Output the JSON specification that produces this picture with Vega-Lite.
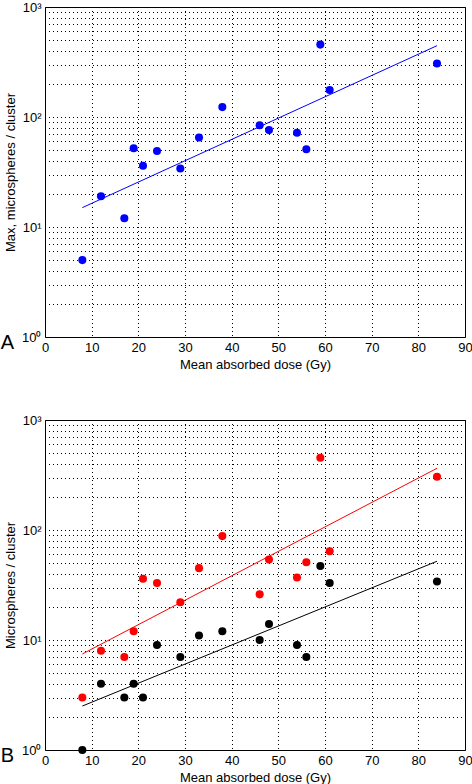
{
  "$schema": "https://vega.github.io/schema/vega-lite/v6.json",
  "background": "white",
  "padding": {"left": 0, "top": 0, "right": 5, "bottom": 5},
  "spacing": 41,
  "config": {
    "view": {"stroke": "#000", "strokeWidth": 1},
    "axis": {"labelFont": "Liberation Sans", "titleFont": "Liberation Sans", "labelFontSize": 13, "titleFontSize": 13, "titleFontWeight": "normal", "labelColor": "#000", "titleColor": "#000", "domain": false, "ticks": false, "gridColor": "#000", "gridDash": [1, 3], "gridDashOffset": 0.5, "gridOpacity": 1, "gridWidth": 1, "labelPadding": 4, "titlePadding": 4, "labelFlush": false, "labelOverlap": false},
    "text": {"font": "Liberation Sans"}
  },
  "vconcat": [
    {
      "width": 420, "height": 330,
      "layer": [
        {
          "data": {"values": [
            {"dose": 8, "count": 5}, {"dose": 12, "count": 19}, {"dose": 17, "count": 12}, {"dose": 19, "count": 52},
            {"dose": 21, "count": 36}, {"dose": 24, "count": 49}, {"dose": 29, "count": 34}, {"dose": 33, "count": 65},
            {"dose": 38, "count": 123}, {"dose": 46, "count": 84}, {"dose": 48, "count": 76}, {"dose": 54, "count": 72},
            {"dose": 56, "count": 51}, {"dose": 59, "count": 455}, {"dose": 61, "count": 176}, {"dose": 84, "count": 306}
          ]},
          "mark": {"type": "circle", "size": 65, "opacity": 1, "color": "#0000ff"},
          "encoding": {
            "x": {"field": "dose", "type": "quantitative", "scale": {"domain": [0, 90], "nice": false}, "axis": {"title": "Mean absorbed dose (Gy)", "values": [0, 10, 20, 30, 40, 50, 60, 70, 80, 90]}},
            "y": {"field": "count", "type": "quantitative", "scale": {"type": "log", "domain": [1, 1000], "nice": false}, "axis": {"title": "Max, microspheres / cluster", "values": [1, 2, 3, 4, 5, 6, 7, 8, 9, 10, 20, 30, 40, 50, 60, 70, 80, 90, 100, 200, 300, 400, 500, 600, 700, 800, 900, 1000], "labelExpr": "datum.value == 1 ? '10⁰' : datum.value == 10 ? '10¹' : datum.value == 100 ? '10²' : datum.value == 1000 ? '10³' : ''"}}
          }
        },
        {
          "data": {"values": [{"dose": 8, "count": 15}, {"dose": 84, "count": 445}]},
          "mark": {"type": "line", "color": "#0000ff", "strokeWidth": 1},
          "encoding": {
            "x": {"field": "dose", "type": "quantitative"},
            "y": {"field": "count", "type": "quantitative"}
          }
        },
        {
          "data": {"values": [{"label": "A"}]},
          "mark": {"type": "text", "fontSize": 20, "align": "left", "baseline": "middle", "dy": 6, "clip": false, "color": "#000"},
          "encoding": {
            "x": {"datum": -9.5, "type": "quantitative"},
            "y": {"datum": 1, "type": "quantitative"},
            "text": {"field": "label"}
          }
        }
      ]
    },
    {
      "width": 420, "height": 330,
      "layer": [
        {
          "data": {"values": [
            {"dose": 8, "count": 3, "series": "Series 1"}, {"dose": 12, "count": 8, "series": "Series 1"}, {"dose": 17, "count": 7, "series": "Series 1"}, {"dose": 19, "count": 12, "series": "Series 1"},
            {"dose": 21, "count": 36, "series": "Series 1"}, {"dose": 24, "count": 33, "series": "Series 1"}, {"dose": 29, "count": 22, "series": "Series 1"}, {"dose": 33, "count": 45, "series": "Series 1"},
            {"dose": 38, "count": 88, "series": "Series 1"}, {"dose": 46, "count": 26, "series": "Series 1"}, {"dose": 48, "count": 54, "series": "Series 1"}, {"dose": 54, "count": 37, "series": "Series 1"},
            {"dose": 56, "count": 51, "series": "Series 1"}, {"dose": 59, "count": 454, "series": "Series 1"}, {"dose": 61, "count": 64, "series": "Series 1"}, {"dose": 84, "count": 305, "series": "Series 1"},
            {"dose": 8, "count": 1, "series": "Series 2"}, {"dose": 12, "count": 4, "series": "Series 2"}, {"dose": 17, "count": 3, "series": "Series 2"}, {"dose": 19, "count": 4, "series": "Series 2"},
            {"dose": 21, "count": 3, "series": "Series 2"}, {"dose": 24, "count": 9, "series": "Series 2"}, {"dose": 29, "count": 7, "series": "Series 2"}, {"dose": 33, "count": 11, "series": "Series 2"},
            {"dose": 38, "count": 12, "series": "Series 2"}, {"dose": 46, "count": 10, "series": "Series 2"}, {"dose": 48, "count": 14, "series": "Series 2"}, {"dose": 54, "count": 9, "series": "Series 2"},
            {"dose": 56, "count": 7, "series": "Series 2"}, {"dose": 59, "count": 47, "series": "Series 2"}, {"dose": 61, "count": 33, "series": "Series 2"}, {"dose": 84, "count": 34, "series": "Series 2"}
          ]},
          "mark": {"type": "circle", "size": 65, "opacity": 1},
          "encoding": {
            "x": {"field": "dose", "type": "quantitative", "scale": {"domain": [0, 90], "nice": false}, "axis": {"title": "Mean absorbed dose (Gy)", "values": [0, 10, 20, 30, 40, 50, 60, 70, 80, 90]}},
            "y": {"field": "count", "type": "quantitative", "scale": {"type": "log", "domain": [1, 1000], "nice": false}, "axis": {"title": "Microspheres / cluster", "values": [1, 2, 3, 4, 5, 6, 7, 8, 9, 10, 20, 30, 40, 50, 60, 70, 80, 90, 100, 200, 300, 400, 500, 600, 700, 800, 900, 1000], "labelExpr": "datum.value == 1 ? '10⁰' : datum.value == 10 ? '10¹' : datum.value == 100 ? '10²' : datum.value == 1000 ? '10³' : ''"}},
            "color": {"field": "series", "type": "nominal", "scale": {"domain": ["Series 1", "Series 2"], "range": ["#ff0000", "#000000"]}, "legend": null}
          }
        },
        {
          "data": {"values": [
            {"dose": 8, "count": 7.46, "series": "Series 1"}, {"dose": 84, "count": 364, "series": "Series 1"},
            {"dose": 8, "count": 2.51, "series": "Series 2"}, {"dose": 84, "count": 52, "series": "Series 2"}
          ]},
          "mark": {"type": "line", "strokeWidth": 1},
          "encoding": {
            "x": {"field": "dose", "type": "quantitative"},
            "y": {"field": "count", "type": "quantitative"},
            "color": {"field": "series", "type": "nominal", "legend": null}
          }
        },
        {
          "data": {"values": [{"label": "B"}]},
          "mark": {"type": "text", "fontSize": 20, "align": "left", "baseline": "middle", "dy": 6, "clip": false, "color": "#000"},
          "encoding": {
            "x": {"datum": -9.5, "type": "quantitative"},
            "y": {"datum": 1, "type": "quantitative"},
            "text": {"field": "label"}
          }
        }
      ]
    }
  ]
}
